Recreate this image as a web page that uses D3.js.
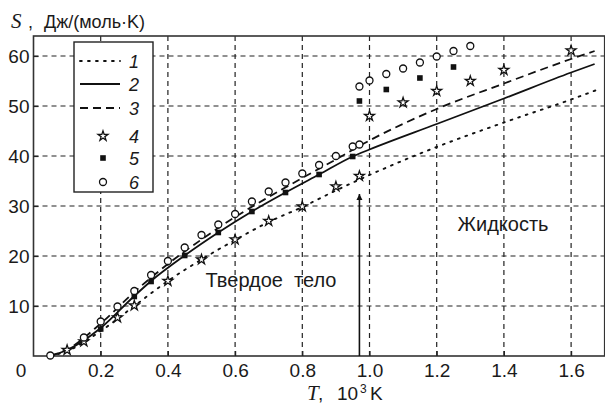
<!DOCTYPE html>
<html>
<head>
<meta charset="utf-8">
<script src="https://cdn.jsdelivr.net/npm/d3@7"></script>
<style>
  body { margin: 0; background: #fff; }
  text { font-family: "Liberation Sans", Arial, sans-serif; fill: #1a1a1a; white-space: pre; }
</style>
</head>
<body>
<svg id="canvas"></svg>
<script>
// ticks
const tempTicks = [0.2, 0.4, 0.6, 0.8, 1.0, 1.2, 1.4, 1.6];
const tempTickLabels = ["0.2", "0.4", "0.6", "0.8", "1.0", "1.2", "1.4", "1.6"];
const entropyTicks = [10, 20, 30, 40, 50, 60];

// curve 1 (dotted)
const line1T = [0.05, 0.1, 0.2, 0.3, 0.4, 0.5, 0.6, 0.7, 0.8, 0.9, 1.0, 1.1, 1.2, 1.4, 1.6, 1.68];
const line1S = [0, 1, 5, 10, 15, 19.3, 23.2, 26.8, 29.8, 33.1, 36.2, 39.1, 41.8, 46.7, 51.3, 53.3];

// curve 2 (solid)
const line2T = [0.05, 0.1, 0.2, 0.3, 0.35, 0.45, 0.55, 0.65, 0.75, 0.85, 0.95, 1.0, 1.2, 1.4, 1.6, 1.67];
const line2S = [0, 1.2, 5.6, 12, 15, 20.1, 24.7, 28.9, 32.7, 36.3, 39.9, 41.3, 46.4, 51.5, 56.7, 58.4];

// curve 3 (dashed)
const line3T = [0.05, 0.1, 0.2, 0.3, 0.4, 0.5, 0.6, 0.7, 0.8, 0.9, 1.0, 1.2, 1.4, 1.6, 1.67];
const line3S = [0, 1.3, 6.5, 12.8, 18.4, 23.3, 27.8, 31.8, 35.6, 39.3, 43.1, 49.4, 54.5, 59.4, 61];

// points 4 (stars)
const stars4T = [0.1, 0.15, 0.25, 0.3, 0.4, 0.5, 0.6, 0.7, 0.8, 0.9, 0.97, 1.0, 1.1, 1.2, 1.3, 1.4, 1.6];
const stars4S = [1.2, 2.9, 7.7, 10.1, 15, 19.3, 23.3, 27, 29.9, 33.9, 36, 48, 50.7, 53, 55, 57.2, 61.1];

// points 5 (filled squares)
const squares5T = [0.2, 0.3, 0.35, 0.45, 0.55, 0.65, 0.75, 0.85, 0.95, 0.97, 1.05, 1.15, 1.25];
const squares5S = [5.4, 11.9, 14.9, 20.1, 24.7, 28.9, 32.7, 36.3, 39.9, 51, 53.3, 55.6, 57.8];

// points 6 (open circles)
const circles6T = [0.05, 0.15, 0.2, 0.25, 0.3, 0.35, 0.4, 0.45, 0.5, 0.55, 0.6, 0.65, 0.7, 0.75, 0.8, 0.85, 0.9, 0.95, 0.97,
                   0.97, 1.0, 1.05, 1.1, 1.15, 1.2, 1.25, 1.3];
const circles6S = [0.1, 3.7, 6.9, 9.9, 13, 16.2, 19, 21.7, 24.2, 26.3, 28.4, 30.9, 32.9, 34.7, 36.5, 38.2, 40, 41.9, 42.3,
                   53.9, 55.1, 56.4, 57.5, 58.7, 59.9, 61, 62];

const legendLabels = ["1", "2", "3", "4", "5", "6"];

// melting point arrow
const meltT = 0.97;
const meltS = 32.4;

const width = 605;
const height = 407;
const margins = { top: 36, right: 0, bottom: 51, left: 33.5 };

const svg = d3.select("#canvas")
    .attr("width", width)
    .attr("height", height);

const x = d3.scaleLinear()
    .domain([0, 1.7])
    .range([margins.left, 604.7]);

const y = d3.scaleLinear()
    .domain([0, 64])
    .range([height - margins.bottom, margins.top]);

const ink = "#222";

// grid
svg.append("g")
    .selectAll("line")
    .data(tempTicks)
    .enter()
    .append("line")
    .attr("x1", d => x(d)).attr("x2", d => x(d))
    .attr("y1", y(0)).attr("y2", y(64))
    .attr("stroke", ink)
    .attr("stroke-width", 1.2)
    .attr("stroke-dasharray", "5,4");

svg.append("g")
    .selectAll("line")
    .data(entropyTicks)
    .enter()
    .append("line")
    .attr("x1", x(0)).attr("x2", x(1.7))
    .attr("y1", d => y(d)).attr("y2", d => y(d))
    .attr("stroke", ink)
    .attr("stroke-width", 1.2)
    .attr("stroke-dasharray", "5,4");

// frame
svg.append("rect")
    .attr("x", x(0))
    .attr("y", y(64))
    .attr("width", x(1.7) - x(0))
    .attr("height", y(0) - y(64))
    .attr("fill", "none")
    .attr("stroke", "#333")
    .attr("stroke-width", 1.6);

// axes (labels only, ticks drawn inward)
const xAxis = svg.append("g")
    .attr("transform", "translate(0," + y(0) + ")")
    .call(d3.axisBottom(x).tickValues(tempTicks).tickFormat((d, i) => tempTickLabels[i]).tickSize(-5).tickPadding(8));
const yAxis = svg.append("g")
    .attr("transform", "translate(" + x(0) + ",0)")
    .call(d3.axisLeft(y).tickValues(entropyTicks).tickSize(-5).tickPadding(4));
[xAxis, yAxis].forEach(g => {
    g.select(".domain").remove();
    g.selectAll(".tick line").attr("stroke", ink).attr("stroke-width", 1.2);
    g.selectAll(".tick text")
        .attr("font-family", "'Liberation Sans', Arial, sans-serif")
        .attr("font-size", 19)
        .attr("fill", "#1a1a1a");
});

svg.append("text")
    .attr("x", 21)
    .attr("y", 377)
    .attr("text-anchor", "middle")
    .attr("font-size", 19)
    .text("0");

// curves
const makeLine = (ts, ss) => ts.map((t, i) => ({ t: t, s: ss[i] }));
const lineGen = d3.line()
    .x(d => x(d.t))
    .y(d => y(d.s))
    .curve(d3.curveMonotoneX);

const curves = [
    { data: makeLine(line1T, line1S), dash: "1.8,6.2", width: 1.9, cap: "round" },
    { data: makeLine(line2T, line2S), dash: null, width: 1.8, cap: "butt" },
    { data: makeLine(line3T, line3S), dash: "8,5", width: 1.8, cap: "butt" }
];

curves.forEach(c => {
    svg.append("path")
        .datum(c.data)
        .attr("d", lineGen)
        .attr("fill", "none")
        .attr("stroke", "#111")
        .attr("stroke-width", c.width)
        .attr("stroke-linecap", c.cap)
        .attr("stroke-dasharray", c.dash);
});

// markers
const star = d3.symbol().type(d3.symbolStar).size(30);

svg.append("g")
    .selectAll("path")
    .data(makeLine(stars4T, stars4S))
    .enter()
    .append("path")
    .attr("d", star)
    .attr("transform", d => "translate(" + x(d.t) + "," + y(d.s) + ")")
    .attr("fill", "#fff")
    .attr("stroke", "#111")
    .attr("stroke-width", 1.3);

svg.append("g")
    .selectAll("rect")
    .data(makeLine(squares5T, squares5S))
    .enter()
    .append("rect")
    .attr("x", d => x(d.t) - 2.8)
    .attr("y", d => y(d.s) - 2.8)
    .attr("width", 5.6)
    .attr("height", 5.6)
    .attr("fill", "#111");

svg.append("g")
    .selectAll("circle")
    .data(makeLine(circles6T, circles6S))
    .enter()
    .append("circle")
    .attr("cx", d => x(d.t))
    .attr("cy", d => y(d.s))
    .attr("r", 3.5)
    .attr("fill", "#fff")
    .attr("stroke", "#111")
    .attr("stroke-width", 1.3);

// melting arrow
svg.append("defs")
    .append("marker")
    .attr("id", "arrow")
    .attr("viewBox", "0 0 10 10")
    .attr("refX", 10).attr("refY", 5)
    .attr("markerWidth", 6).attr("markerHeight", 9)
    .attr("markerUnits", "userSpaceOnUse")
    .attr("orient", "auto")
    .append("path")
    .attr("d", "M0,0 L10,5 L0,10 Z")
    .attr("fill", "#111");

svg.append("line")
    .attr("x1", x(meltT)).attr("x2", x(meltT))
    .attr("y1", y(0)).attr("y2", y(meltS))
    .attr("stroke", "#111")
    .attr("stroke-width", 1.6)
    .attr("marker-end", "url(#arrow)");

// phase labels
svg.append("text")
    .attr("x", 271)
    .attr("y", 287)
    .attr("text-anchor", "middle")
    .attr("font-size", 20)
    .text("Твердое  тело");

svg.append("text")
    .attr("x", 503)
    .attr("y", 231)
    .attr("text-anchor", "middle")
    .attr("font-size", 20)
    .text("Жидкость");

// legend
const legend = svg.append("g");
legend.append("rect")
    .attr("x", 74).attr("y", 42)
    .attr("width", 79).attr("height", 150)
    .attr("fill", "#fff")
    .attr("stroke", "#222")
    .attr("stroke-width", 1.4);

const rowY = [61, 84, 108, 136, 158, 182];
legendLabels.forEach((lab, i) => {
    const yy = rowY[i];
    if (i < 3) {
        const c = curves[i];
        legend.append("line")
            .attr("x1", 80).attr("x2", 120)
            .attr("y1", yy).attr("y2", yy)
            .attr("stroke", "#111")
            .attr("stroke-width", c.width)
            .attr("stroke-linecap", c.cap)
            .attr("stroke-dasharray", c.dash);
    } else if (i === 3) {
        legend.append("path")
            .attr("d", star)
            .attr("transform", "translate(103," + yy + ")")
            .attr("fill", "#fff").attr("stroke", "#111").attr("stroke-width", 1.3);
    } else if (i === 4) {
        legend.append("rect")
            .attr("x", 100.2).attr("y", yy - 2.8)
            .attr("width", 5.6).attr("height", 5.6)
            .attr("fill", "#111");
    } else {
        legend.append("circle")
            .attr("cx", 103).attr("cy", yy).attr("r", 3.5)
            .attr("fill", "#fff").attr("stroke", "#111").attr("stroke-width", 1.3);
    }
    legend.append("text")
        .attr("x", 129)
        .attr("y", yy + 6.5)
        .attr("font-size", 18)
        .attr("font-style", "italic")
        .text(lab);
});

// axis titles
const serif = "'Liberation Serif', 'Times New Roman', serif";
const yTitle = svg.append("text")
    .attr("x", 11).attr("y", 28)
    .attr("font-size", 18);
yTitle.append("tspan")
    .attr("font-family", serif).attr("font-style", "italic").attr("font-size", 21)
    .text("S");
yTitle.append("tspan").attr("x", 28).text(",");
yTitle.append("tspan").attr("x", 44).text("Дж/(моль·K)");

const xTitle = svg.append("text")
    .attr("x", 307).attr("y", 400)
    .attr("font-size", 19);
xTitle.append("tspan")
    .attr("font-family", serif).attr("font-style", "italic").attr("font-size", 21)
    .text("T");
xTitle.append("tspan").attr("x", 318).text(",");
xTitle.append("tspan").attr("x", 337).text("10");
xTitle.append("tspan").attr("x", 360).attr("dy", -7).attr("font-size", 12).text("3");
xTitle.append("tspan").attr("x", 370).attr("dy", 7).text("K");
</script>
</body>
</html>
